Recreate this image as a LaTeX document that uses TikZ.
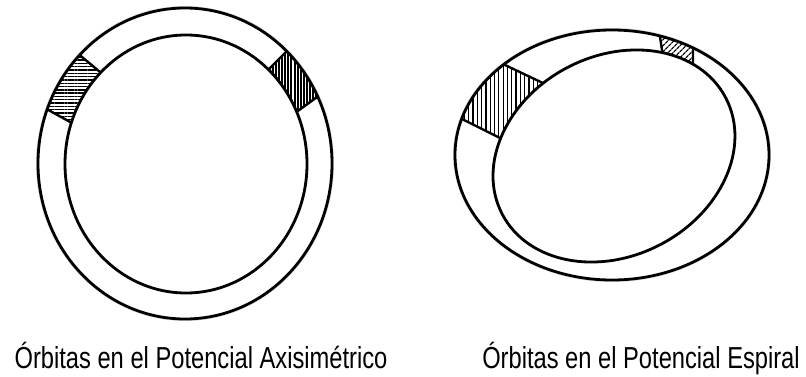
\documentclass[tikz,border=0pt]{standalone}
\usepackage{fontspec}
\setmainfont{Liberation Sans}
\usetikzlibrary{patterns.meta}
\begin{document}
\begin{tikzpicture}[x=1pt,y=-1pt,
  orbit/.style={line width=2.8pt, black},
  cutline/.style={line width=2.4pt, black},
  shadowline/.style={line width=4pt, black!14},
  caption/.style={anchor=base, inner sep=0pt, font=\fontsize{23.7}{28}\selectfont}]
\useasboundingbox (0,0) rectangle (806,377);
\coordinate (LC) at (185,163.5);
\coordinate (LI) at (186,164);
\coordinate (RC) at (612,155);
\coordinate (RI) at (614,156);
% shadows
\begin{scope}[shift={(1.2,2.6)}]
  \draw[shadowline] (LC) ellipse [x radius=147, y radius=155.5];
  \draw[shadowline] (LI) ellipse [x radius=121, y radius=129];
  \draw[shadowline] (RC) ellipse [x radius=157, y radius=125];
  \draw[shadowline, rotate around={27.4:(RI)}] (RI) ellipse [x radius=126, y radius=100];
\end{scope}
% ---------- left figure ----------
\begin{scope}
  \clip (LC) ellipse [x radius=147, y radius=155.5];
  \fill[white] (LC) ellipse [x radius=147, y radius=155.5];
  \fill[pattern={Lines[angle=0, distance=3.3pt, line width=1.4pt]}]
    (73,49.5) -- (109,79.5) -- (82,128.5) -- (42,106.5) -- cycle;
  \draw[cutline] (73,49.5) -- (109,79.5) (82,128.5) -- (42,106.5);
  \fill[pattern={Lines[angle=90, distance=3.1pt, line width=2pt]}]
    (288,50) -- (264,74) -- (286,119.5) -- (322,93.5) -- cycle;
  \draw[cutline] (288,50) -- (264,74) (286,119.5) -- (322,93.5);
\end{scope}
\fill[white] (LI) ellipse [x radius=121, y radius=129];
\draw[orbit] (LI) ellipse [x radius=121, y radius=129];
\draw[orbit] (LC) ellipse [x radius=147, y radius=155.5];
% ---------- right figure ----------
\begin{scope}
  \clip (RC) ellipse [x radius=157, y radius=125];
  \fill[white] (RC) ellipse [x radius=157, y radius=125];
  \fill[pattern={Lines[angle=90, distance=4.3pt, line width=1.2pt]}]
    (492.4,59) -- (559.6,91) -- (511.4,143.7) -- (450.6,113.3) -- cycle;
  \draw[cutline] (492.4,59) -- (559.6,91) (511.4,143.7) -- (450.6,113.3);
  \fill[pattern={Lines[angle=45, distance=4pt, line width=1.4pt]}]
    (659,30) -- (693,38) -- (693,68) -- (663.5,60) -- cycle;
  \draw[cutline] (659,30) -- (663.5,60) (693,38) -- (693,68);
\end{scope}
\fill[white, rotate around={27.4:(RI)}] (RI) ellipse [x radius=126, y radius=100];
\draw[orbit, rotate around={27.4:(RI)}] (RI) ellipse [x radius=126, y radius=100];
\draw[orbit] (RC) ellipse [x radius=157, y radius=125];
% captions
\node[caption] (capL) at (201,368.5) {\scalebox{1}[1.28]{Órbitas en el Potencial Axisimétrico}};
\node[caption] (capR) at (641,368.5) {\scalebox{1}[1.28]{Órbitas en el Potencial Espiral}};
\end{tikzpicture}
\end{document}
